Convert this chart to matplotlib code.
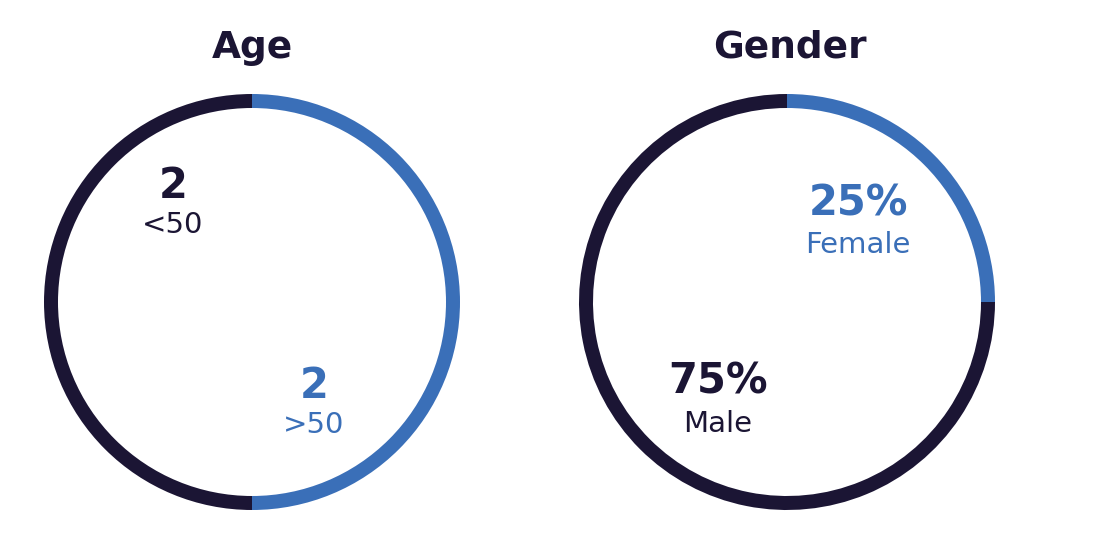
import matplotlib
matplotlib.use("Agg")
import matplotlib.pyplot as plt

# data
titles = ["Age", "Gender"]
age_labels = [">50", "<50"]
age_values = [2, 2]
gender_labels = ["Female", "Male"]
gender_values = [25, 75]

DARK = "#1b1534"
BLUE = "#3a6fb8"
W, H = 1120, 560

plt.rcParams['font.family'] = ['DejaVu Sans']

fig = plt.figure(figsize=(11.2, 5.6), dpi=100)
ax = fig.add_axes([0, 0, 1, 1])

rings = [
    (age_values, (252, H - 302)),
    (gender_values, (787, H - 302)),
]
for values, center in rings:
    ax.pie(values, colors=[BLUE, DARK], startangle=90, counterclock=False,
           center=center, radius=208, frame=True,
           wedgeprops=dict(width=14, linewidth=0))

ax.set_xlim(0, W)
ax.set_ylim(0, H)
ax.set_aspect('equal')
ax.axis('off')

# titles
ax.text(252, H - 48, titles[0], ha='center', va='center', fontsize=27,
        fontweight='bold', color=DARK)
ax.text(790, H - 47, titles[1], ha='center', va='center', fontsize=27,
        fontweight='bold', color=DARK)

# value labels
def label(x, y, big, small, color, gap):
    ax.text(x, H - y, big, ha='center', va='center', fontsize=30,
            fontweight='bold', color=color)
    ax.text(x, H - y - gap, small, ha='center', va='center', fontsize=21,
            color=color)

label(173, 186, str(age_values[1]), age_labels[1], DARK, 39)
label(314, 386, str(age_values[0]), age_labels[0], BLUE, 39)
label(858, 203, "{}%".format(gender_values[0]), gender_labels[0], BLUE, 42)
label(718, 382, "{}%".format(gender_values[1]), gender_labels[1], DARK, 42)

fig.savefig("out.png", dpi=100, facecolor='white')
